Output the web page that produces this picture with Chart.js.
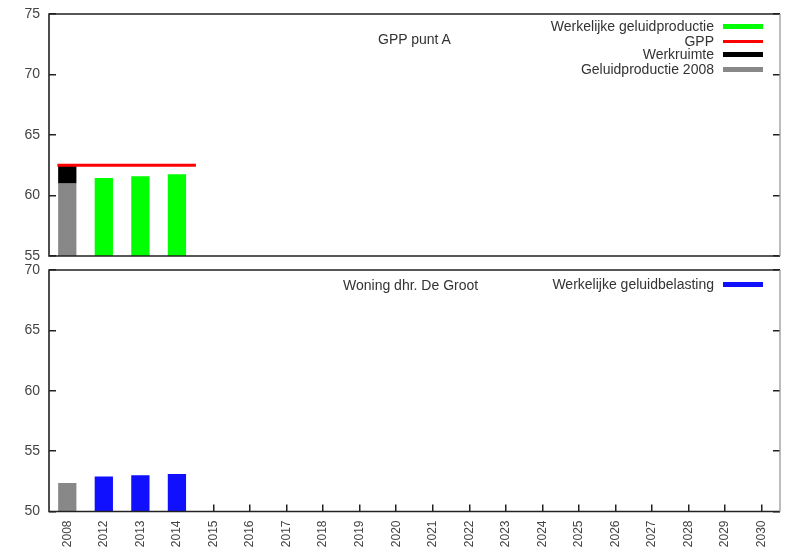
<!DOCTYPE html>
<html>
<head>
<meta charset="utf-8">
<script src="https://cdn.jsdelivr.net/npm/chart.js@4.4.1/dist/chart.umd.min.js"></script>
<style>
  html, body { margin:0; padding:0; background:#fff; width:802px; height:554px; overflow:hidden; font-family:"Liberation Sans", Arial, sans-serif; }
  .panel { position:absolute; left:0; width:802px; }
  .txt { position:absolute; font-size:14px; color:#333; white-space:nowrap; line-height:15px; }
  .lg { position:absolute; right:88px; font-size:14px; color:#333; white-space:nowrap; line-height:15px; text-align:right; }
  .sw { position:absolute; left:723px; width:40px; height:5px; }
</style>
</head>
<body>
<div class="panel" style="top:0;height:262px;"><canvas id="c1"></canvas></div>
<div class="panel" style="top:262px;height:292px;"><canvas id="c2"></canvas></div>

<div class="txt" style="left:378px;top:32px;">GPP punt A</div>
<div class="lg" style="top:19px;">Werkelijke geluidproductie</div>
<div class="sw" style="top:24px;background:#00ff00;"></div>
<div class="lg" style="top:34px;">GPP</div>
<div class="sw" style="top:40px;height:3px;background:#ff0000;"></div>
<div class="lg" style="top:47px;">Werkruimte</div>
<div class="sw" style="top:52px;background:#000000;"></div>
<div class="lg" style="top:62px;">Geluidproductie 2008</div>
<div class="sw" style="top:67px;background:#888888;"></div>

<div class="txt" style="left:343px;top:278px;">Woning dhr. De Groot</div>
<div class="lg" style="top:277px;">Werkelijke geluidbelasting</div>
<div class="sw" style="top:282px;background:#1010ff;"></div>

<script>
// ---- data ----
const categories = ['2008','2012','2013','2014','2015','2016','2017','2018','2019','2020','2021','2022','2023','2024','2025','2026','2027','2028','2029','2030'];

// top panel: GPP punt A
const geluidproductie2008 = [61.0, null, null, null, null, null, null, null, null, null, null, null, null, null, null, null, null, null, null, null];
const werkruimteVan = [61.0];
const werkruimteTot = [62.5];
const werkelijkeGeluidproductie = [null, 61.45, 61.6, 61.75, null, null, null, null, null, null, null, null, null, null, null, null, null, null, null, null];
const gppWaarde = 62.5;
const gppVanIndex = -0.27;   // from the left edge of the 2008 bar
const gppTotIndex = 3.52;    // to just past the 2014 bar

// bottom panel: Woning dhr. De Groot
const geluidbelasting2008 = [52.35, null, null, null, null, null, null, null, null, null, null, null, null, null, null, null, null, null, null, null];
const werkelijkeGeluidbelasting = [null, 52.9, 53.0, 53.1, null, null, null, null, null, null, null, null, null, null, null, null, null, null, null, null];

const yTicksTop = {min:55, max:75, step:5};
const yTicksBottom = {min:50, max:70, step:5};

// ---- helpers ----
const tickFont = {family:'"Liberation Sans", Arial, sans-serif', size:14};
const frame = {
  id:'frame',
  afterDraw(chart){
    const a = chart.chartArea, ctx = chart.ctx;
    ctx.save();
    ctx.lineWidth = 1.6;
    ctx.strokeStyle = '#222';
    ctx.beginPath();
    ctx.moveTo(a.right, a.top); ctx.lineTo(a.left, a.top); ctx.lineTo(a.left, a.bottom); ctx.lineTo(a.right, a.bottom);
    ctx.stroke();
    ctx.strokeStyle = '#999';
    ctx.lineWidth = 1.3;
    ctx.beginPath(); ctx.moveTo(a.right, a.top); ctx.lineTo(a.right, a.bottom); ctx.stroke();
    ctx.restore();
  }
};
function yAxis(t){
  return {
    type:'linear', position:'left', min:t.min, max:t.max,
    ticks:{stepSize:t.step, font:tickFont, color:'#444', padding:16},
    grid:{drawOnChartArea:false, drawTicks:true, tickLength:-7, color:'#222', lineWidth:1.5},
    border:{display:false},
    afterFit(s){ s.width = 49; s.paddingTop = 0; s.paddingBottom = 0; }
  };
}
function yMirror(t){
  return {
    type:'linear', position:'right', min:t.min, max:t.max,
    ticks:{stepSize:t.step, display:false},
    grid:{drawOnChartArea:false, drawTicks:true, tickLength:-7, color:'#222', lineWidth:1.5},
    border:{display:false},
    afterFit(s){ s.width = 0; s.paddingTop = 0; s.paddingBottom = 0; }
  };
}
const common = {
  responsive:true, maintainAspectRatio:false, animation:false,
  plugins:{legend:{display:false}, tooltip:{enabled:false}, title:{display:false}}
};

// ---- top chart ----
new Chart(document.getElementById('c1'), {
  type:'bar',
  data:{
    labels:categories,
    datasets:[
      {type:'line', label:'GPP', xAxisID:'xl', data:[{x:gppVanIndex,y:gppWaarde},{x:gppTotIndex,y:gppWaarde}],
       borderColor:'#ff0000', borderWidth:3, pointRadius:0, order:0},
      {label:'Werkelijke geluidproductie', data:werkelijkeGeluidproductie, backgroundColor:'#00ff00', grouped:false, order:1,
       barPercentage:0.5, categoryPercentage:1},
      {label:'Werkruimte', data:werkruimteVan.map((v,i)=>[v, werkruimteTot[i]]), backgroundColor:'#000000', grouped:false, order:1,
       barPercentage:0.5, categoryPercentage:1},
      {label:'Geluidproductie 2008', data:geluidproductie2008, backgroundColor:'#888888', grouped:false, order:2,
       barPercentage:0.5, categoryPercentage:1}
    ]
  },
  options:Object.assign({}, common, {
    layout:{padding:{top:14, right:22, bottom:6, left:0}},
    scales:{
      x:{type:'category', display:false, offset:true},
      xl:{type:'linear', display:false, offset:false, bounds:'data', grace:0, beginAtZero:false,
          min:-0.5, max:categories.length-0.5},
      y:yAxis(yTicksTop),
      yr:yMirror(yTicksTop)
    }
  }),
  plugins:[frame]
});

// ---- bottom chart ----
new Chart(document.getElementById('c2'), {
  type:'bar',
  data:{
    labels:categories,
    datasets:[
      {label:'Werkelijke geluidbelasting', data:werkelijkeGeluidbelasting, backgroundColor:'#1010ff', grouped:false,
       barPercentage:0.5, categoryPercentage:1},
      {label:'Geluidbelasting 2008', data:geluidbelasting2008, backgroundColor:'#888888', grouped:false,
       barPercentage:0.5, categoryPercentage:1}
    ]
  },
  options:Object.assign({}, common, {
    layout:{padding:{top:8, right:22, bottom:0, left:0}},
    scales:{
      x:{type:'category', offset:true,
         ticks:{font:{family:'"Liberation Sans", Arial, sans-serif', size:12}, color:'#444', minRotation:90, maxRotation:90, padding:16, autoSkip:false},
         grid:{drawOnChartArea:false, drawTicks:true, tickLength:-7, color:'#222', lineWidth:1.5, offset:false},
         border:{display:false},
         afterFit(s){ s.height = 42.5; s.paddingLeft = 0; s.paddingRight = 0; }
      },
      y:yAxis(yTicksBottom),
      yr:yMirror(yTicksBottom)
    }
  }),
  plugins:[frame]
});
</script>
</body>
</html>
